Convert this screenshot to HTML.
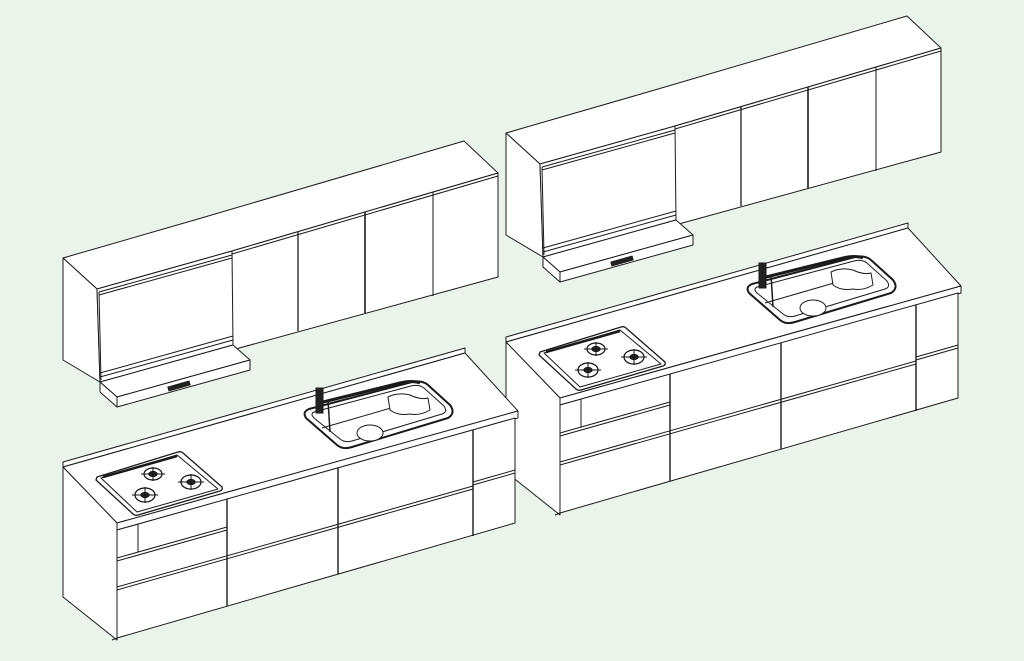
<!DOCTYPE html>
<html><head><meta charset="utf-8"><style>
html,body{margin:0;padding:0;background:#eaf4ea;}
svg{display:block}
</style></head><body>
<svg width="1024" height="661" viewBox="0 0 1024 661" xmlns="http://www.w3.org/2000/svg">
<defs>
<g id="k" stroke="#1a1a1a" stroke-width="1" fill="#fff" stroke-linejoin="round">
  <!-- upper cabinets -->
  <polygon points="63,258 198,219 464,141 498,173 232,251 97,289"/>
  <polygon points="63,258 97,289 100,382 63,360"/>
  <polygon points="232,251 498,173 498,277 232,350"/>
  <polygon points="97,289 232,251 233,345 100,382"/>
  <polyline fill="none" points="232,254 498,176"/>
  <polyline fill="none" points="99,292 232,255"/>
  <polyline fill="none" points="99,295 232,258"/>
  <line x1="99" y1="292" x2="101" y2="380"/>
  <line x1="298" y1="232" x2="298" y2="331" stroke-width="1.3"/>
  <line x1="365" y1="212" x2="365" y2="313" stroke-width="1.6"/>
  <line x1="433" y1="192" x2="433" y2="296"/>
  <polyline fill="none" points="100,373 233,336"/>
  <polyline fill="none" points="100,377 233,340"/>
  <!-- hood plate -->
  <polygon points="100,382 233,345 250,360 117,397"/>
  <polygon points="117,397 250,360 250,370 117,407"/>
  <polygon points="100,382 117,397 117,407 100,392"/>
  <rect x="168" y="384" width="22" height="4" fill="#222" transform="rotate(-16 179 386)"/>
  <!-- base -->
  <polygon points="63,462 465,348 465,353 63,467"/>
  <polygon points="63,467 465,353 518,411 117,523"/>
  <polygon points="117,523 518,411 518,418 117,530"/>
  <polygon points="63,467 117,523 117,640 63,597"/>
  <polygon points="117,530 515,418 515,523 117,638"/>
  <polyline fill="none" points="117,558 227,527"/>
  <polyline fill="none" points="117,561 227,530"/>
  <polyline fill="none" points="117,587 473,486"/>
  <polyline fill="none" points="117,590 473,489"/>
  <polyline fill="none" points="473,482 515,470"/>
  <polyline fill="none" points="473,485 515,473"/>
  <line x1="227" y1="499" x2="227" y2="606" stroke-width="1.4"/>
  <line x1="338" y1="468" x2="338" y2="574" stroke-width="1.4"/>
  <line x1="473" y1="430" x2="473" y2="536" stroke-width="1.4"/>
  <line x1="138" y1="524" x2="138" y2="552"/>
  <polyline fill="none" points="117,530 117,638 112,640"/>
  <!-- hob -->
  <path d="M97,477 L178,452 Q181,451 183,453 L222,487 Q223,490 220,491 L138,515 Q135,516 133,514 L96,480 Z" stroke-width="1.3"/>
  <path d="M101,478 L177,455 L218,489 L137,512 Z"/>
  <polyline fill="none" stroke-width="2.5" points="103,477 177,456"/>
  <g fill="#fff" stroke="#111" stroke-width="1.2">
    <ellipse cx="153" cy="474" rx="9" ry="6"/><ellipse cx="153" cy="474" rx="4" ry="2.5" fill="#333"/>
    <ellipse cx="191" cy="482" rx="10" ry="7"/><ellipse cx="191" cy="482" rx="4" ry="2.5" fill="#333"/>
    <ellipse cx="145" cy="495" rx="10" ry="7"/><ellipse cx="145" cy="495" rx="4" ry="2.5" fill="#333"/>
    <path d="M141,474 L165,474 M153,467 L153,481 M178,482 L204,482 M191,474 L191,490 M132,495 L158,495 M145,487 L145,503" stroke-width="1"/>
  </g>
  <!-- sink -->
  <path d="M309,409 L412,382 Q422,380 428,385 L450,405 Q456,413 448,418 L352,447 Q343,450 337,445 L306,418 Q302,412 309,409 Z" stroke-width="2"/>
  <path d="M314,412 L411,386 Q420,384 425,389 L444,406 Q448,412 442,414 L352,441 Q345,443 340,439 L314,418 Q310,414 314,412 Z"/>
  <path d="M322,428 L422,399" fill="none"/>
  <ellipse cx="370" cy="433" rx="13" ry="8"/>
  <path d="M388,397 Q398,392 410,395 Q420,400 428,398 L430,410 Q420,416 410,414 Q398,416 390,410 Z"/>
  <path d="M323,402 L400,383 Q412,380 420,383" fill="none" stroke-width="3"/>
  <rect x="316" y="388" width="7" height="25" fill="#222"/>
  <line x1="328" y1="400" x2="330" y2="432" stroke-width="1.5"/>
</g>
</defs>
<use href="#k" transform="translate(443,-125)"/>
<use href="#k"/>
</svg>
</body></html>
